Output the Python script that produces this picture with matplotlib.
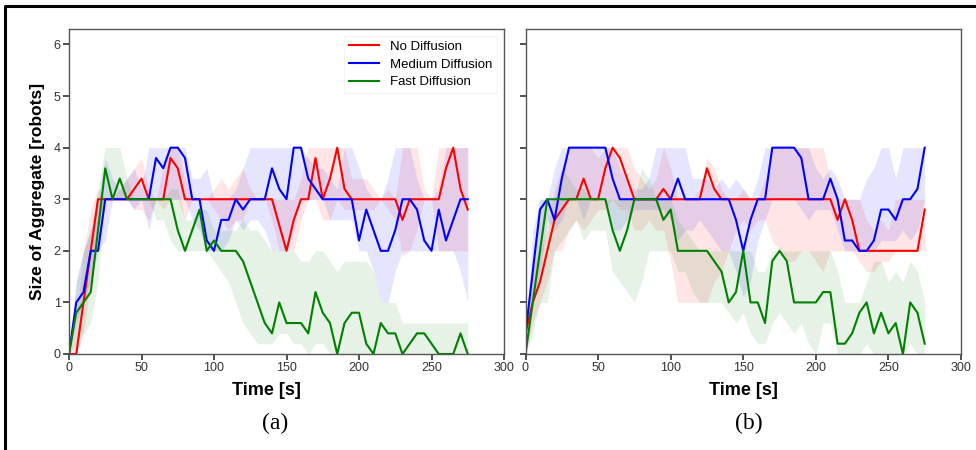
import matplotlib
matplotlib.use("Agg")
import matplotlib.pyplot as plt
from matplotlib.lines import Line2D
import numpy as np

# sample times (s), one point every 5 s
t = [0, 5, 10, 15, 20, 25, 30, 35, 40, 45, 50, 55, 60, 65, 70, 75, 80, 85, 90, 95,
     100, 105, 110, 115, 120, 125, 130, 135, 140, 145, 150, 155, 160, 165, 170, 175, 180, 185, 190, 195,
     200, 205, 210, 215, 220, 225, 230, 235, 240, 245, 250, 255, 260, 265, 270, 275]

labels = ["No Diffusion", "Medium Diffusion", "Fast Diffusion"]
colors = ["red", "blue", "green"]

# ---- (a) ----
red_a = [0, 0, 1, 2, 3, 3, 3, 3, 3, 3.2, 3.4, 3, 3, 3, 3.8, 3.6, 3, 3, 3, 3,
         3, 3, 3, 3, 3, 3, 3, 3, 3, 2.5, 2, 2.6, 3, 3, 3.8, 3, 3.4, 4, 3.2, 3,
         3, 3, 3, 3, 3, 3, 2.6, 3, 3, 3, 3, 3, 3.6, 4, 3.2, 2.8]
red_a_hi = [0, 0.6, 2, 2.8, 3.2, 3, 3, 3.2, 3.4, 3.6, 3.8, 3.2, 3, 3.6, 4, 4, 3.4, 3, 3, 3,
            3.2, 3.4, 3.2, 3.4, 3.6, 3.2, 3, 3, 3, 3, 3, 3, 3.4, 4, 4, 4, 4, 4, 4, 3.4,
            3.4, 3.4, 3.2, 3, 3.2, 3, 4, 4, 4, 3.2, 3, 4, 4, 4, 4, 4]
red_a_lo = [0, 0, 0.4, 1.4, 2.4, 3, 3, 3, 3, 2.8, 2.8, 2.6, 3, 2.8, 3, 3, 2.6, 3, 3, 3,
            2.8, 2.6, 2.4, 2.6, 2.6, 3, 3, 3, 2.6, 2, 2, 2, 2.6, 3, 3, 2.6, 2.6, 3, 2.8, 2.8,
            2.8, 2.8, 2.8, 3, 2.8, 2.6, 1.9, 2, 2.4, 3, 3, 2, 2, 2, 2, 2]

blue_a = [0, 1, 1.2, 2, 2, 3, 3, 3, 3, 3, 3, 3, 3.8, 3.6, 4, 4, 3.8, 3, 3, 2.2,
          2, 2.6, 2.6, 3, 2.8, 3, 3, 3, 3.6, 3.2, 3, 4, 4, 3.4, 3.2, 3, 3, 3, 3, 3,
          2.2, 2.8, 2.4, 2, 2, 2.4, 3, 3, 2.8, 2.2, 2, 2.8, 2.2, 2.6, 3, 3]
blue_a_hi = [0, 1.4, 2, 2.4, 3, 3.8, 3.4, 3.2, 3.4, 3.6, 3.2, 4, 4, 4, 4, 4, 4, 3.4, 3.4, 3.6,
             3, 3, 3, 3.2, 3.6, 4, 4, 4, 4, 4, 4, 4, 4, 3.8, 3.6, 3.6, 3.4, 3.2, 4, 4,
             3.6, 3.2, 3, 3, 3.4, 4, 4, 4, 3.4, 3, 3, 3.2, 4, 4, 4, 4]
blue_a_lo = [0, 0.6, 1, 1.4, 2, 2.2, 3, 3, 3, 2.8, 3, 2.4, 3, 3, 3, 3, 3, 2.6, 2.4, 2,
             2, 2, 2.2, 2.6, 2.4, 2.6, 2.6, 2.4, 2, 2, 2, 2.4, 3, 3, 3, 3, 2.6, 2.6, 2.6, 2.6,
             2, 2, 1.6, 1, 1, 1.6, 2, 2, 2, 2, 2, 2, 2, 2, 1.6, 1]

green_a = [0, 0.8, 1, 1.2, 2.4, 3.6, 3, 3.4, 3, 3, 3, 3, 3, 3, 3, 2.4, 2, 2.4, 2.8, 2,
           2.2, 2, 2, 2, 1.8, 1.4, 1, 0.6, 0.4, 1, 0.6, 0.6, 0.6, 0.4, 1.2, 0.8, 0.6, 0, 0.6, 0.8,
           0.8, 0.2, 0, 0.6, 0.4, 0.4, 0, 0.2, 0.4, 0.4, 0.2, 0, 0, 0, 0.4, 0]
green_a_hi = [0, 1.4, 2, 2.4, 3.2, 4, 4, 4, 3.4, 3, 3, 3, 3, 3, 3.2, 3.2, 2.6, 2.6, 2.8, 2.8,
              2.4, 2.4, 2.4, 2.4, 2.6, 2.4, 2.4, 2.2, 2, 2, 2, 2, 1.8, 1.8, 2, 2, 1.8, 1.6, 1.8, 1.8,
              1.8, 1.8, 1.6, 1, 1, 1, 0.6, 0.6, 0.6, 0.6, 0.6, 0.6, 0.6, 0.6, 0.6, 0.6]
green_a_lo = [0, 0.2, 0.4, 0.6, 1.4, 3, 3, 3, 3, 3, 3, 3, 2.6, 2.6, 2.2, 2, 2, 2, 2, 2,
              1.8, 1.6, 1.4, 1, 0.6, 0.4, 0.2, 0.2, 0.2, 0.4, 0.4, 0.2, 0.2, 0, 0.2, 0.2, 0, 0, 0, 0,
              0, 0, 0, 0, 0, 0, 0, 0, 0, 0, 0, 0, 0, 0, 0, 0]

# ---- (b) ----
red_b = [0.4, 1, 1.4, 2, 2.6, 2.8, 3, 3, 3.4, 3, 3, 3.6, 4, 3.8, 3.4, 3, 3, 3, 3, 3.2,
         3, 3, 3, 3, 3, 3.6, 3.2, 3, 3, 3, 3, 3, 3, 3, 3, 3, 3, 3, 3, 3,
         3, 3, 3, 2.6, 3, 2.6, 2, 2, 2, 2, 2, 2, 2, 2, 2, 2.8]
red_b_hi = [0.4, 1.6, 2, 2.4, 3.2, 3.6, 4, 4, 4, 4, 3.8, 4, 4, 4, 4, 3.6, 3.4, 3.2, 3.4, 4,
            3.6, 3, 3, 3, 3.2, 3.8, 3.6, 3.2, 3, 3, 3.2, 3, 3, 3.4, 4, 4, 4, 4, 4, 4,
            4, 4, 3.4, 3, 3, 3, 3, 2.6, 2.4, 2.6, 2.4, 3, 3, 3, 3, 3]
red_b_lo = [0, 0.6, 1, 1.4, 2, 2, 2.4, 2.6, 2.4, 2.6, 2.8, 2.8, 3, 2.8, 2.8, 2.4, 2.4, 2.6, 2.4, 2.4,
            1.8, 1, 1, 1, 1, 1, 1.4, 1.6, 2, 2.4, 2.6, 2.4, 2.6, 2.6, 2.2, 2, 1.8, 1.8, 2, 2,
            1.8, 1.6, 2, 2, 2, 2, 1.8, 1.6, 1.6, 1.8, 1.8, 2, 2, 2, 2, 2]

blue_b = [0.4, 1.6, 2.8, 3, 2.6, 3.4, 4, 4, 4, 4, 4, 4, 3.4, 3, 3, 3, 3, 3, 3, 3,
          3, 3.4, 3, 3, 3, 3, 3, 3, 3, 2.6, 2, 2.6, 3, 3, 4, 4, 4, 4, 3.8, 3,
          3, 3, 3.4, 3, 2.2, 2.2, 2, 2, 2.2, 2.8, 2.8, 2.6, 3, 3, 3.2, 4]
blue_b_hi = [0.4, 2.4, 3, 3, 3.6, 4, 4, 4, 4, 4, 4, 4, 4, 3.6, 3.4, 3.2, 3.2, 3.4, 4, 4,
             4, 4, 4, 3.4, 3.4, 3.4, 3.2, 3.4, 3.2, 3.4, 3.2, 3, 3.4, 4, 4, 4, 4, 4, 4, 4,
             3.6, 3.4, 3.6, 3.4, 3, 3, 3, 3.4, 3.6, 4, 4, 3.4, 4, 4, 4, 4]
blue_b_lo = [0, 1, 1.6, 2.6, 2.4, 2.6, 3, 3, 2.6, 3, 3, 3, 2.4, 2.4, 2.6, 2.8, 2.8, 2.8, 2.8, 2.8,
             2.6, 2.2, 2.4, 2.4, 2.6, 2.4, 2.2, 2, 2, 1.6, 1.1, 1.4, 2.2, 2.6, 3, 3, 3, 3, 2.8, 2.6,
             2.8, 2.8, 2.8, 2.4, 2, 2, 2, 2, 2, 2.2, 2.2, 2.2, 2.4, 2.2, 2.4, 3]

green_b = [0, 1, 2, 3, 3, 3, 3, 3, 3, 3, 3, 3, 2.4, 2, 2.4, 3, 3, 3, 3, 2.6,
           2.8, 2, 2, 2, 2, 2, 1.8, 1.6, 1, 1.2, 2, 1, 1, 0.6, 1.8, 2, 1.8, 1, 1, 1,
           1, 1.2, 1.2, 0.2, 0.2, 0.4, 0.8, 1, 0.4, 0.8, 0.4, 0.6, 0, 1, 0.8, 0.2]
green_b_hi = [0, 2, 3, 3, 3, 3.6, 3.4, 3.2, 3.2, 3, 3, 3, 3, 3, 3, 3, 3.6, 3.4, 3, 3,
              3, 2.6, 2.4, 2.2, 2, 2, 2, 2, 2, 2, 2, 2, 1.6, 1.6, 2, 2, 2, 2, 2, 2,
              2, 2, 2, 1.6, 1, 1, 1, 1.4, 1.8, 1.8, 1.4, 1.6, 1.4, 1.8, 1.6, 1]
green_b_lo = [0, 0.4, 1, 1, 2, 2.2, 2.4, 2.6, 2.2, 2.4, 2.4, 2.4, 1.6, 1.4, 1.2, 1, 1.4, 2, 2, 2,
              2, 1.6, 1.6, 1.2, 1, 1, 1, 1, 0.8, 0.6, 0.8, 0.4, 0.2, 0.2, 0.6, 0.8, 0.6, 0.4, 0.6, 0.2,
              0, 0.6, 0.6, 0, 0, 0, 0, 0.2, 0, 0, 0, 0, 0, 0.2, 0, 0]

panels = [
    ("(a)", [red_a, blue_a, green_a], [red_a_lo, blue_a_lo, green_a_lo], [red_a_hi, blue_a_hi, green_a_hi]),
    ("(b)", [red_b, blue_b, green_b], [red_b_lo, blue_b_lo, green_b_lo], [red_b_hi, blue_b_hi, green_b_hi]),
]

plt.rcParams["font.family"] = ["Liberation Sans", "DejaVu Sans"]

fig = plt.figure(figsize=(9.76, 4.5), dpi=100)
ax_a = fig.add_axes([69 / 976, 1 - 354 / 450, 435 / 976, 325 / 450])
ax_b = fig.add_axes([525.5 / 976, 1 - 354 / 450, 435.5 / 976, 325 / 450], sharey=ax_a)
axes = [ax_a, ax_b]

for ax, (tag, means, lows, highs) in zip(axes, panels):
    for m, lo, hi, c in zip(means, lows, highs, colors):
        ax.fill_between(t, lo, hi, color=c, alpha=0.1, linewidth=0)
    for m, c, lab in zip(means, colors, labels):
        ax.plot(t, m, color=c, linewidth=1.5, label=lab)

    ax.set_xlim(0, 300)
    ax.set_ylim(0, 6.3)
    ax.set_xticks([0, 50, 100, 150, 200, 250, 300])
    ax.set_yticks([0, 1, 2, 3, 4, 5, 6])
    ax.tick_params(direction="out", length=4, width=1.2, color="#333333",
                   labelsize=9, labelcolor="#333333", pad=2)
    for s in ax.spines.values():
        s.set_color("#555555")
        s.set_linewidth(1.0)
    ax.set_xlabel("Time [s]", fontsize=13, fontweight="bold", labelpad=3)

ax_a.xaxis.set_label_coords(0.455, -0.085)
ax_b.xaxis.set_label_coords(0.5, -0.085)
ax_a.set_ylabel("Size of Aggregate [robots]", fontsize=12.5, fontweight="bold", labelpad=6)
plt.setp(ax_b.get_yticklabels(), visible=False)

leg = ax_a.legend(loc="upper right", fontsize=9.5, frameon=True, fancybox=False,
                  handlelength=2.3, borderaxespad=0.5, labelspacing=0.4)
leg.get_frame().set_edgecolor("#f2f2f2")
leg.get_frame().set_linewidth(0.8)

fig.text(275 / 976, 1 - 423 / 450, "(a)", ha="center", va="center", fontsize=17,
         family=["Liberation Serif", "DejaVu Serif"])
fig.text(749 / 976, 1 - 423 / 450, "(b)", ha="center", va="center", fontsize=17,
         family=["Liberation Serif", "DejaVu Serif"])

# black rule along the top and left edges of the figure
fig.lines.append(Line2D([5 / 976, 5 / 976, 1], [0, 1 - 5.5 / 450, 1 - 5.5 / 450],
                        transform=fig.transFigure, color="black", linewidth=2.2))

fig.savefig("out.png", dpi=100)
